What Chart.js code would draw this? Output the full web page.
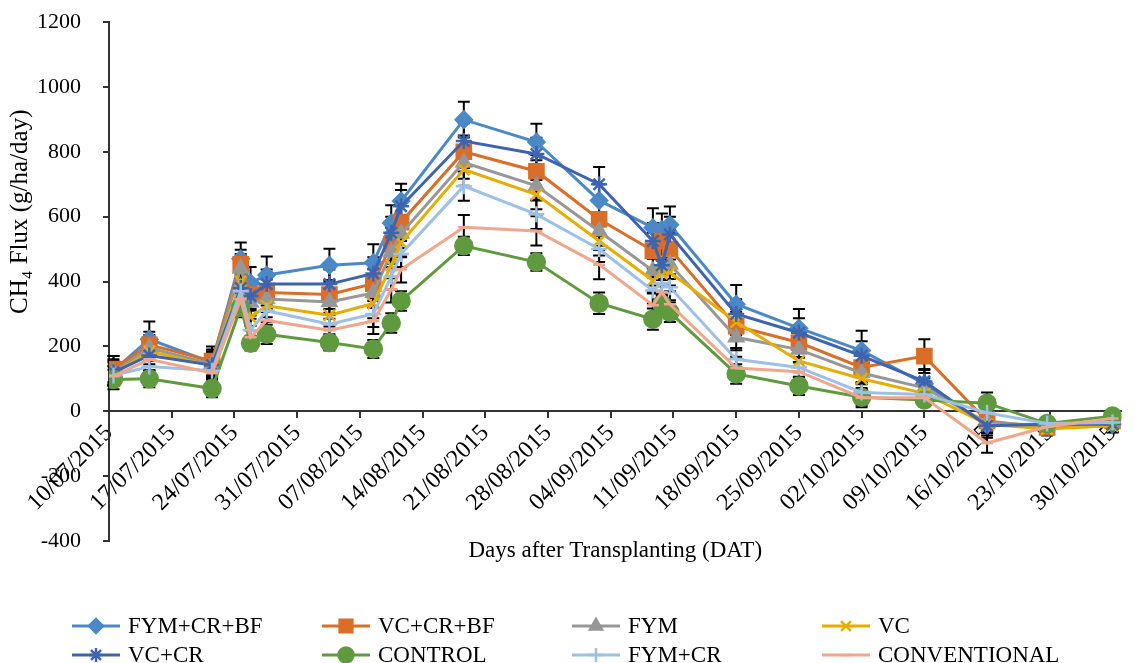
<!DOCTYPE html>
<html>
<head>
<meta charset="utf-8">
<script src="https://cdn.jsdelivr.net/npm/chart.js@4.4.1/dist/chart.umd.min.js"></script>
<style>
  html, body { margin: 0; padding: 0; background: #fff; }
  #grafico { display: block; }
</style>
</head>
<body>
<canvas id="grafico" width="1135" height="663"></canvas>
<script>
// sampling days (days after 10/07/2015)
const dias = [0.5, 4.5, 11.5, 14.7, 15.8, 17.6, 24.6, 29.5, 31.5, 32.6, 39.6, 47.7, 54.7, 60.7, 61.7, 62.6, 70, 77, 84, 91, 98, 104.7, 112];

// x axis tick labels (one every 7 days)
const tickDias = [0, 7, 14, 21, 28, 35, 42, 49, 56, 63, 70, 77, 84, 91, 98, 105, 112];
const tickLabels = ['10/07/2015', '17/07/2015', '24/07/2015', '31/07/2015', '07/08/2015', '14/08/2015',
  '21/08/2015', '28/08/2015', '04/09/2015', '11/09/2015', '18/09/2015', '25/09/2015',
  '02/10/2015', '09/10/2015', '16/10/2015', '23/10/2015', '30/10/2015'];

const nomes = ['FYM+CR+BF', 'VC+CR+BF', 'FYM', 'VC', 'VC+CR', 'CONTROL', 'FYM+CR', 'CONVENTIONAL'];

// CH4 flux (g/ha/day)
const fymCrBf = [125, 222, 150, 470, 395, 420, 450, 458, 580, 648, 899, 830, 650, 566, 560, 575, 330, 256, 187, 85, -42, -40, -40];
const vcCrBf = [130, 205, 155, 453, 360, 366, 360, 393, 515, 583, 800, 740, 592, 495, 525, 500, 262, 212, 135, 170, -30, -50, -30];
const fym = [120, 195, 145, 440, 335, 346, 337, 365, 490, 548, 767, 695, 555, 433, 450, 453, 228, 190, 118, 72, -35, -45, -35];
const vc = [115, 185, 140, 400, 290, 325, 296, 332, 450, 520, 745, 668, 525, 403, 425, 428, 275, 155, 100, 55, -40, -55, -45];
const vcCr = [120, 172, 142, 380, 355, 392, 392, 425, 550, 632, 833, 793, 700, 525, 450, 545, 300, 242, 171, 92, -45, -40, -40];
const control = [98, 100, 70, 320, 210, 237, 212, 192, 272, 340, 510, 460, 333, 284, 330, 305, 115, 78, 43, 35, 25, -38, -15];
const fymCr = [110, 138, 125, 370, 250, 310, 268, 300, 415, 485, 694, 607, 500, 372, 395, 382, 160, 135, 58, 52, -5, -38, -35];
const conventional = [108, 160, 118, 345, 228, 280, 250, 278, 375, 437, 567, 556, 452, 327, 368, 330, 133, 122, 42, 42, -98, -48, -22];

// error bars (+/-)
const errFymCrBf = [45, 55, 40, 50, 50, 57, 51, 57, 55, 53, 55, 56, 50, 60, 50, 56, 59, 59, 61, 45, 40, 20, 25];
const errVcCrBf = [40, 40, 45, 45, 45, 40, 45, 45, 50, 50, 50, 50, 50, 55, 50, 50, 45, 45, 45, 52, 30, 20, 20];
const errFym = [35, 40, 40, 45, 40, 40, 40, 45, 45, 45, 50, 45, 45, 45, 45, 45, 40, 40, 35, 30, 25, 20, 20];
const errVc = [35, 40, 35, 40, 40, 35, 35, 45, 40, 45, 50, 45, 45, 40, 40, 40, 40, 35, 35, 30, 25, 20, 20];
const errVcCr = [40, 45, 40, 45, 45, 45, 45, 50, 50, 50, 55, 50, 53, 55, 55, 55, 45, 45, 45, 35, 30, 20, 25];
const errControl = [30, 26, 27, 30, 23, 30, 25, 28, 30, 30, 28, 27, 33, 33, 30, 30, 30, 28, 25, 20, 33, 15, 15];
const errFymCr = [30, 35, 35, 40, 35, 35, 35, 40, 40, 40, 45, 45, 40, 40, 40, 40, 35, 30, 30, 25, 20, 20, 20];
const errConventional = [30, 35, 30, 40, 35, 35, 35, 40, 40, 40, 38, 45, 45, 40, 40, 40, 35, 30, 30, 25, 30, 20, 20];

const valores = [fymCrBf, vcCrBf, fym, vc, vcCr, control, fymCr, conventional];
const erros = [errFymCrBf, errVcCrBf, errFym, errVc, errVcCr, errControl, errFymCr, errConventional];

const cores = ['#4A89C5', '#D86E28', '#979797', '#E6AD00', '#3E64B0', '#5F9A3E', '#9CC0E6', '#F0A68C'];
const marcadores = ['rectRot', 'rect', 'triangle', 'crossRot', 'star', 'circle', 'cross', 'line'];
const raios = [8, 10, 8, 8, 8, 8.5, 8, 6];

const fonte = 'Liberation Serif';

// montando datasets
const datasets = nomes.map((nome, i) => ({
  label: nome,
  data: dias.map((d, j) => ({ x: d, y: valores[i][j] })),
  errors: erros[i],
  borderColor: cores[i],
  backgroundColor: cores[i],
  borderWidth: 3,
  pointStyle: marcadores[i],
  pointRadius: raios[i],
  pointBorderWidth: 2.5,
  pointBorderColor: cores[i],
  pointBackgroundColor: cores[i],
  tension: 0,
  order: nomes.length - i
}));

// error bars drawn under the lines
const errorBars = {
  id: 'errorBars',
  beforeDatasetsDraw(chart) {
    const ctx = chart.ctx;
    const yScale = chart.scales.y;
    ctx.save();
    ctx.strokeStyle = '#000';
    ctx.lineWidth = 2;
    chart.data.datasets.forEach((ds, i) => {
      const meta = chart.getDatasetMeta(i);
      meta.data.forEach((pt, j) => {
        const v = ds.data[j].y;
        const e = ds.errors[j];
        const top = yScale.getPixelForValue(v + e);
        const bot = yScale.getPixelForValue(v - e);
        ctx.beginPath();
        ctx.moveTo(pt.x, top); ctx.lineTo(pt.x, bot);
        ctx.moveTo(pt.x - 6, top); ctx.lineTo(pt.x + 6, top);
        ctx.moveTo(pt.x - 6, bot); ctx.lineTo(pt.x + 6, bot);
        ctx.stroke();
      });
    });
    ctx.restore();
  }
};

// legend in 4 columns x 2 rows
const legendaGrade = {
  id: 'legendaGrade',
  afterDraw(chart) {
    const ctx = chart.ctx;
    ctx.save();
    chart.data.datasets.forEach((ds, i) => {
      const col = i % 4;
      const row = Math.floor(i / 4);
      const x0 = 72 + col * 250;
      const y = 626 + row * 29;
      ctx.strokeStyle = ds.borderColor;
      ctx.lineWidth = 3;
      ctx.beginPath();
      ctx.moveTo(x0, y);
      ctx.lineTo(x0 + 48, y);
      ctx.stroke();
      ctx.fillStyle = ds.backgroundColor;
      ctx.strokeStyle = ds.borderColor;
      ctx.lineWidth = 2.5;
      Chart.helpers.drawPoint(ctx, { pointStyle: ds.pointStyle, radius: ds.pointRadius - 1, borderWidth: 2.5, rotation: 0 }, x0 + 24, y);
      ctx.fillStyle = '#000';
      ctx.font = '23px "' + fonte + '"';
      ctx.textAlign = 'left';
      ctx.textBaseline = 'middle';
      ctx.fillText(ds.label, x0 + 56, y + 1);
    });
    ctx.restore();
  }
};

const config = {
  type: 'line',
  data: { datasets: datasets },
  options: {
    responsive: false,
    animation: false,
    devicePixelRatio: 1,
    layout: { padding: { top: 22, right: 0, bottom: 122, left: 0 } },
    plugins: { legend: { display: false }, tooltip: { enabled: false } },
    scales: {
      x: {
        type: 'linear',
        position: { y: 0 },
        min: 0,
        max: 113,
        afterBuildTicks: (s) => { s.ticks = tickDias.map(v => ({ value: v })); },
        ticks: {
          autoSkip: false,
          minRotation: 45,
          maxRotation: 45,
          padding: 2,
          color: '#000',
          font: { family: fonte, size: 24 },
          callback: (v) => tickLabels[tickDias.indexOf(v)]
        },
        grid: { drawOnChartArea: false, drawTicks: true, tickLength: 6, color: '#333', lineWidth: 2 },
        border: { color: '#333', width: 2 },
        title: {
          display: true,
          text: 'Days after Transplanting (DAT)',
          color: '#000',
          font: { family: fonte, size: 23 },
          padding: { top: 18, bottom: 0 }
        }
      },
      y: {
        min: -400,
        max: 1200,
        afterFit: (s) => { s.width = 109; s.paddingTop = 13; s.paddingBottom = 13; },
        ticks: {
          stepSize: 200,
          padding: 22,
          color: '#000',
          font: { family: fonte, size: 22 },
          callback: (v) => String(v)
        },
        grid: { drawOnChartArea: false, drawTicks: true, tickLength: 6, color: '#333', lineWidth: 2 },
        border: { color: '#333', width: 2 },
        title: {
          display: true,
          align: 'end',
          text: 'CH₄ Flux (g/ha/day)' + '              ',
          color: '#000',
          font: { family: fonte, size: 25 },
          padding: { top: 5, bottom: 0 }
        }
      }
    }
  },
  plugins: [errorBars, legendaGrade]
};

const grafico = new Chart(document.getElementById('grafico'), config);
</script>
</body>
</html>
